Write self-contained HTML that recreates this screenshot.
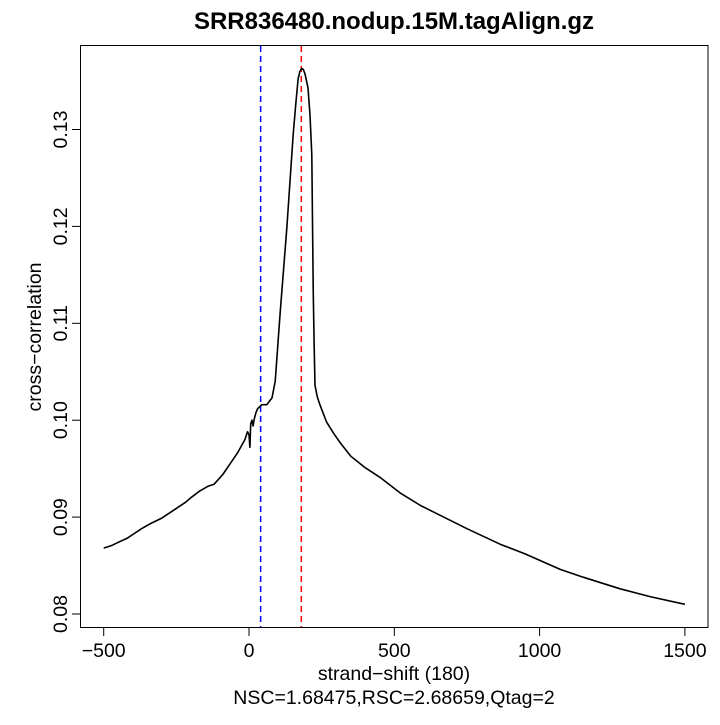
<!DOCTYPE html>
<html><head><meta charset="utf-8"><style>
html,body{margin:0;padding:0;background:#fff;}
svg text{font-family:"Liberation Sans",sans-serif;}
</style></head><body>
<svg id="chart" width="720" height="720" viewBox="0 0 720 720">
<text x="394" y="29" font-size="24" font-weight="bold" text-anchor="middle">SRR836480.nodup.15M.tagAlign.gz</text>
<rect x="80.5" y="45.5" width="627.5" height="582" fill="none" stroke="#000" stroke-width="1"/>
<g id="xaxis"></g>
<g id="yaxis"></g>
<g id="marks"></g>
<text x="394" y="680" font-size="19.5" text-anchor="middle">strand−shift (180)</text>
<text x="394" y="704" font-size="19.5" text-anchor="middle">NSC=1.68475,RSC=2.68659,Qtag=2</text>
<text transform="translate(41,337) rotate(-90)" font-size="19.5" text-anchor="middle">cross−correlation</text>
</svg>
<script>
const shifts = [-500,-470,-450,-420,-400,-370,-341,-300,-270,-250,-220,-200,-169,-140,-120,-90,-65,-40,-14,-5,0,3,6,10,14,18,24,30,44,61,79,90,107,130,152,162,169,175,181,187,193,203,210,216,221,224,227,235,244,267,290,313,350,400,451,520,590,657,750,864,950,1071,1150,1277,1380,1500];
const corr = [0.0868,0.0871,0.0874,0.0878,0.0882,0.0888,0.0893,0.0899,0.0905,0.0909,0.0915,0.0920,0.0927,0.0932,0.0934,0.0944,0.0955,0.0966,0.0980,0.0988,0.0985,0.0972,0.0996,0.1000,0.0994,0.1001,0.1008,0.1012,0.1016,0.1016,0.1023,0.1040,0.1110,0.1198,0.1295,0.1330,0.1352,0.1360,0.1363,0.1362,0.1357,0.1343,0.1315,0.1274,0.1136,0.1080,0.1036,0.1024,0.1016,0.0998,0.0987,0.0977,0.0963,0.0951,0.0941,0.0925,0.0912,0.0902,0.0888,0.0872,0.0862,0.0846,0.0838,0.0826,0.0818,0.0810];
const xTicks = [-500,0,500,1000,1500];
const yTicks = [0.08,0.09,0.10,0.11,0.12,0.13];
const yTickLabels = ["0.08","0.09","0.10","0.11","0.12","0.13"];
const nscShift = 40;
const bestShift = 180;

const NS="http://www.w3.org/2000/svg";
function xs(v){return 249 + v*0.2906;}
function ys(v){return 614 - (v-0.08)*9690;}
function mk(tag,attrs,parent){const e=document.createElementNS(NS,tag);for(const k in attrs)e.setAttribute(k,attrs[k]);parent.appendChild(e);return e;}

const xg=document.getElementById('xaxis');
xTicks.forEach(t=>{
  const l=mk('line',{x1:xs(t),x2:xs(t),y1:628,y2:636,stroke:'#000'},xg);
  
  
  const tx=mk('text',{x:xs(t),y:657,'font-size':19.5,'text-anchor':'middle'},xg);
  tx.textContent=(t<0?'−'+Math.abs(t):String(t));
  
  
});
const yg=document.getElementById('yaxis');
yTicks.forEach((t,i)=>{
  const l=mk('line',{x1:72,x2:80,y1:ys(t),y2:ys(t),stroke:'#000'},yg);
  
  
  const tx=mk('text',{'font-size':19.5,'text-anchor':'middle',transform:'translate(67,'+ys(t)+') rotate(-90)'},yg);
  tx.textContent=yTickLabels[i];
  
  
});
const mg=document.getElementById('marks');
const b=mk('line',{x1:xs(nscShift),x2:xs(nscShift),y1:46,y2:627,stroke:'#0000ff','stroke-width':1.5,'stroke-dasharray':'6,4'},mg);


const r=mk('line',{x1:xs(bestShift),x2:xs(bestShift),y1:46,y2:627,stroke:'#ff0000','stroke-width':1.5,'stroke-dasharray':'6,4'},mg);


const d=shifts.map((s,i)=>(i?'L':'M')+xs(s).toFixed(1)+','+ys(corr[i]).toFixed(1)).join(' ');
const p=mk('path',{d:d,fill:'none',stroke:'#000','stroke-width':1.6,'stroke-linejoin':'round'},mg);


</script>
</body></html>
